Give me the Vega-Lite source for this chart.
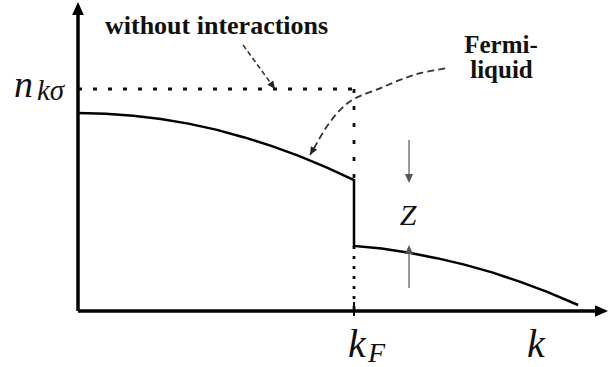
{
  "$schema": "https://vega.github.io/schema/vega-lite/v6.json",
  "width": 609,
  "height": 367,
  "autosize": {"type": "none"},
  "padding": 0,
  "background": "white",
  "config": {"view": {"stroke": null}},
  "encoding": {
    "x": {"field": "x", "type": "quantitative", "scale": {"domain": [-0.2826, 1.9239], "nice": false, "zero": false}, "axis": null},
    "y": {"field": "y", "type": "quantitative", "scale": {"domain": [-0.2523, 1.4009], "nice": false, "zero": false}, "axis": null}
  },
  "layer": [
    {
      "data": {"values": [{"x": 0, "y": 1, "x2": 1, "y2": 1}]},
      "mark": {"type": "rule", "color": "#111", "strokeWidth": 2.8, "strokeDash": [4, 11]},
      "encoding": {"x2": {"field": "x2"}, "y2": {"field": "y2"}}
    },
    {
      "data": {"values": [{"x": 1, "y": 1, "x2": 1, "y2": 0.59}]},
      "mark": {"type": "rule", "color": "#111", "strokeWidth": 2.8, "strokeDash": [4, 13]},
      "encoding": {"x2": {"field": "x2"}, "y2": {"field": "y2"}}
    },
    {
      "data": {"values": [{"x": 1, "y": 0.293, "x2": 1, "y2": 0}]},
      "mark": {"type": "rule", "color": "#111", "strokeWidth": 2.8, "strokeDash": [3, 7]},
      "encoding": {"x2": {"field": "x2"}, "y2": {"field": "y2"}}
    },
    {
      "data": {"values": [{"x": 1, "y": 0.0405, "x2": 1, "y2": -0.0225}]},
      "mark": {"type": "rule", "color": "#111", "strokeWidth": 2},
      "encoding": {"x2": {"field": "x2"}, "y2": {"field": "y2"}}
    },
    {
      "data": {"values": [
        {"x": 0, "y": 0, "x2": 0, "y2": 1.347},
        {"x": 0, "y": 0, "x2": 1.877, "y2": 0}
      ]},
      "mark": {"type": "rule", "color": "#000", "strokeWidth": 3.5},
      "encoding": {"x2": {"field": "x2"}, "y2": {"field": "y2"}}
    },
    {
      "data": {"values": [{"x": 0, "y": 1.3919}]},
      "mark": {"type": "point", "shape": "M0,0L-0.45,1L0.45,1Z", "size": 676, "filled": true, "color": "#000", "opacity": 1, "angle": 0}
    },
    {
      "data": {"values": [{"x": 1.9203, "y": 0}]},
      "mark": {"type": "point", "shape": "M0,0L-0.45,1L0.45,1Z", "size": 676, "filled": true, "color": "#000", "opacity": 1, "angle": 90}
    },
    {
      "data": {"values": [
        {"i": 0, "x": 0, "y": 0.892},
        {"i": 1, "x": 0.1, "y": 0.889},
        {"i": 2, "x": 0.2, "y": 0.880},
        {"i": 3, "x": 0.3, "y": 0.865},
        {"i": 4, "x": 0.4, "y": 0.844},
        {"i": 5, "x": 0.5, "y": 0.817},
        {"i": 6, "x": 0.6, "y": 0.783},
        {"i": 7, "x": 0.7, "y": 0.744},
        {"i": 8, "x": 0.8, "y": 0.699},
        {"i": 9, "x": 0.9, "y": 0.647},
        {"i": 10, "x": 1.0, "y": 0.590},
        {"i": 11, "x": 1.0, "y": 0.293},
        {"i": 12, "x": 1.1, "y": 0.281},
        {"i": 13, "x": 1.2, "y": 0.262},
        {"i": 14, "x": 1.3, "y": 0.238},
        {"i": 15, "x": 1.4, "y": 0.209},
        {"i": 16, "x": 1.5, "y": 0.174},
        {"i": 17, "x": 1.6, "y": 0.132},
        {"i": 18, "x": 1.7, "y": 0.086},
        {"i": 19, "x": 1.812, "y": 0.027}
      ]},
      "mark": {"type": "line", "color": "#000", "strokeWidth": 2.5},
      "encoding": {"order": {"field": "i", "type": "quantitative"}}
    },
    {
      "data": {"values": [{"x": 0.598, "y": 1.198, "x2": 0.7138, "y2": 1.0}]},
      "mark": {"type": "rule", "color": "#333", "strokeWidth": 1.5, "strokeDash": [5, 3]},
      "encoding": {"x2": {"field": "x2"}, "y2": {"field": "y2"}}
    },
    {
      "data": {"values": [{"x": 0.7138, "y": 1.0}]},
      "mark": {"type": "point", "shape": "M0,0L-0.45,1L0.45,1Z", "size": 256, "filled": true, "color": "#222", "opacity": 1, "angle": 144}
    },
    {
      "data": {"values": [
        {"i": 0, "x": 1.330, "y": 1.093},
        {"i": 1, "x": 1.239, "y": 1.071},
        {"i": 2, "x": 1.167, "y": 1.041},
        {"i": 3, "x": 1.094, "y": 1.003},
        {"i": 4, "x": 1.004, "y": 0.958},
        {"i": 5, "x": 0.949, "y": 0.905},
        {"i": 6, "x": 0.901, "y": 0.830},
        {"i": 7, "x": 0.865, "y": 0.755},
        {"i": 8, "x": 0.841, "y": 0.703}
      ]},
      "mark": {"type": "line", "color": "#333", "strokeWidth": 1.8, "strokeDash": [7, 4], "interpolate": "cardinal"},
      "encoding": {"order": {"field": "i", "type": "quantitative"}}
    },
    {
      "data": {"values": [{"x": 0.8406, "y": 0.7027}]},
      "mark": {"type": "point", "shape": "M0,0L-0.45,1L0.45,1Z", "size": 256, "filled": true, "color": "#222", "opacity": 1, "angle": 210}
    },
    {
      "data": {"values": [
        {"x": 1.1993, "y": 0.7703, "x2": 1.1993, "y2": 0.59},
        {"x": 1.1993, "y": 0.1036, "x2": 1.1993, "y2": 0.28}
      ]},
      "mark": {"type": "rule", "color": "#777", "strokeWidth": 1.5},
      "encoding": {"x2": {"field": "x2"}, "y2": {"field": "y2"}}
    },
    {
      "data": {"values": [{"x": 1.1993, "y": 0.5766}]},
      "mark": {"type": "point", "shape": "M0,0L-0.45,1L0.45,1Z", "size": 324, "filled": true, "color": "#555", "opacity": 1, "angle": 180}
    },
    {
      "data": {"values": [{"x": 1.1993, "y": 0.2973}]},
      "mark": {"type": "point", "shape": "M0,0L-0.45,1L0.45,1Z", "size": 324, "filled": true, "color": "#555", "opacity": 1, "angle": 0}
    },
    {
      "data": {"values": [{"x": -0.2319, "y": 0.964, "t": "n"}]},
      "mark": {"type": "text", "font": "Liberation Serif", "fontStyle": "italic", "fontSize": 38, "align": "left", "baseline": "alphabetic", "color": "#111"},
      "encoding": {"text": {"field": "t"}}
    },
    {
      "data": {"values": [{"x": -0.1486, "y": 0.9505, "t": "kσ"}]},
      "mark": {"type": "text", "font": "Liberation Serif", "fontStyle": "italic", "fontSize": 29, "align": "left", "baseline": "alphabetic", "color": "#111"},
      "encoding": {"text": {"field": "t"}}
    },
    {
      "data": {"values": [{"x": 0.9783, "y": -0.2072, "t": "k"}]},
      "mark": {"type": "text", "font": "Liberation Serif", "fontStyle": "italic", "fontSize": 40, "align": "left", "baseline": "alphabetic", "color": "#111"},
      "encoding": {"text": {"field": "t"}}
    },
    {
      "data": {"values": [{"x": 1.0507, "y": -0.2297, "t": "F"}]},
      "mark": {"type": "text", "font": "Liberation Serif", "fontStyle": "italic", "fontSize": 28, "align": "left", "baseline": "alphabetic", "color": "#111"},
      "encoding": {"text": {"field": "t"}}
    },
    {
      "data": {"values": [{"x": 1.6594, "y": -0.2072, "t": "k"}]},
      "mark": {"type": "text", "font": "Liberation Serif", "fontStyle": "italic", "fontSize": 40, "align": "center", "baseline": "alphabetic", "color": "#111"},
      "encoding": {"text": {"field": "t"}}
    },
    {
      "data": {"values": [{"x": 1.1957, "y": 0.3874, "t": "Z"}]},
      "mark": {"type": "text", "font": "Liberation Serif", "fontStyle": "italic", "fontSize": 30, "align": "center", "baseline": "alphabetic", "color": "#111"},
      "encoding": {"text": {"field": "t"}}
    },
    {
      "data": {"values": [{"x": 0.0978, "y": 1.2477, "t": "without interactions"}]},
      "mark": {"type": "text", "font": "Liberation Serif", "fontWeight": "bold", "fontSize": 26, "align": "left", "baseline": "alphabetic", "color": "#111"},
      "encoding": {"text": {"field": "t"}}
    },
    {
      "data": {"values": [
        {"x": 1.5326, "y": 1.1622, "t": "Fermi-"},
        {"x": 1.5344, "y": 1.0495, "t": "liquid"}
      ]},
      "mark": {"type": "text", "font": "Liberation Serif", "fontWeight": "bold", "fontSize": 25, "align": "center", "baseline": "alphabetic", "color": "#111"},
      "encoding": {"text": {"field": "t"}}
    }
  ]
}
